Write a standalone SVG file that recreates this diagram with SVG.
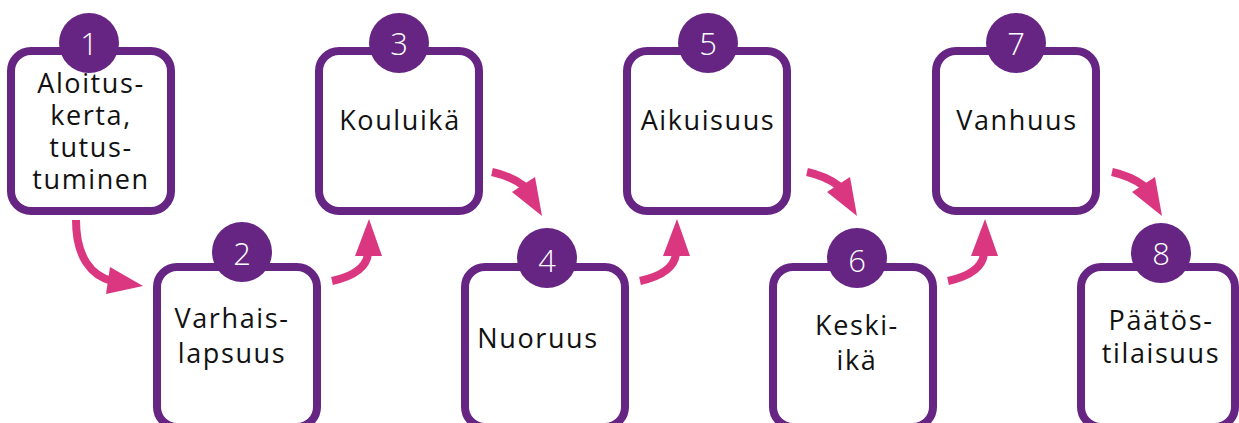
<svg xmlns="http://www.w3.org/2000/svg" width="1239" height="423" viewBox="0 0 1239 423">
<style>
.box{fill:#fff;stroke:#662483;stroke-width:8}
.badge{fill:#662483}
.num{font-family:"Open Sans","Liberation Sans",sans-serif;font-weight:300;font-size:31px;fill:#fff;text-anchor:middle}
.lbl{font-family:"Open Sans","Liberation Sans",sans-serif;font-size:27px;letter-spacing:1.6px;fill:#111;text-anchor:middle}
.arr{fill:none;stroke:#DB3680;stroke-width:8}
.head{fill:#DB3680}
</style>
<rect width="1239" height="423" fill="#fff"/>
<g id="connectors">
<path class="arr" d="M76,220 C76,258 92,276 112,281"/>
<polygon class="head" points="143,286 110,267 106,294"/>
<g><path class="arr" d="M332,281 C350,277 366,270 368,254"/><polygon class="head" points="369,219 355,256 382,256"/></g>
<g transform="translate(308,0)"><path class="arr" d="M332,281 C350,277 366,270 368,254"/><polygon class="head" points="369,219 355,256 382,256"/></g>
<g transform="translate(616,0)"><path class="arr" d="M332,281 C350,277 366,270 368,254"/><polygon class="head" points="369,219 355,256 382,256"/></g>
<path class="arr" d="M492,172 C506,175 516,180 524,186"/><polygon class="head" points="542,216 512,192 535,177"/>
<g transform="translate(315,0)"><path class="arr" d="M492,172 C506,175 516,180 524,186"/><polygon class="head" points="542,216 512,192 535,177"/></g>
<g transform="translate(620,0)"><path class="arr" d="M492,172 C506,175 516,180 524,186"/><polygon class="head" points="542,216 512,192 535,177"/></g>
</g>
<g id="node1"><rect class="box" x="11" y="51" width="160" height="160" rx="20"/><circle class="badge" cx="89" cy="43" r="30"/><text class="num" x="89" y="55">1</text>
<text class="lbl"><tspan x="91" y="93">Aloitus-</tspan><tspan x="91" y="125">kerta,</tspan><tspan x="91" y="157">tutus-</tspan><tspan x="91" y="189">tuminen</tspan></text></g>
<g id="node2"><rect class="box" x="157" y="267" width="160" height="160" rx="20"/><circle class="badge" cx="242" cy="252" r="30"/><text class="num" x="242" y="265">2</text>
<text class="lbl"><tspan x="232" y="328">Varhais-</tspan><tspan x="232" y="363">lapsuus</tspan></text></g>
<g id="node3"><rect class="box" x="319" y="51" width="160" height="160" rx="20"/><circle class="badge" cx="399" cy="43" r="30"/><text class="num" x="399" y="55">3</text>
<text class="lbl" x="400" y="130">Kouluikä</text></g>
<g id="node4"><rect class="box" x="465" y="267" width="160" height="160" rx="20"/><circle class="badge" cx="547" cy="258" r="30"/><text class="num" x="547" y="272">4</text>
<text class="lbl" x="538" y="348">Nuoruus</text></g>
<g id="node5"><rect class="box" x="627" y="51" width="160" height="160" rx="20"/><circle class="badge" cx="708" cy="43" r="30"/><text class="num" x="708" y="55">5</text>
<text class="lbl" x="708" y="130">Aikuisuus</text></g>
<g id="node6"><rect class="box" x="773" y="267" width="160" height="160" rx="20"/><circle class="badge" cx="857" cy="258" r="30"/><text class="num" x="857" y="272">6</text>
<text class="lbl"><tspan x="857" y="335">Keski-</tspan><tspan x="857" y="370">ikä</tspan></text></g>
<g id="node7"><rect class="box" x="936" y="51" width="160" height="160" rx="20"/><circle class="badge" cx="1016" cy="43" r="30"/><text class="num" x="1016" y="55">7</text>
<text class="lbl" x="1017" y="130">Vanhuus</text></g>
<g id="node8"><rect class="box" x="1081" y="267" width="154" height="160" rx="20"/><circle class="badge" cx="1161" cy="253" r="30"/><text class="num" x="1161" y="265">8</text>
<text class="lbl"><tspan x="1161" y="330">Päätös-</tspan><tspan x="1161" y="363">tilaisuus</tspan></text></g>
</svg>
